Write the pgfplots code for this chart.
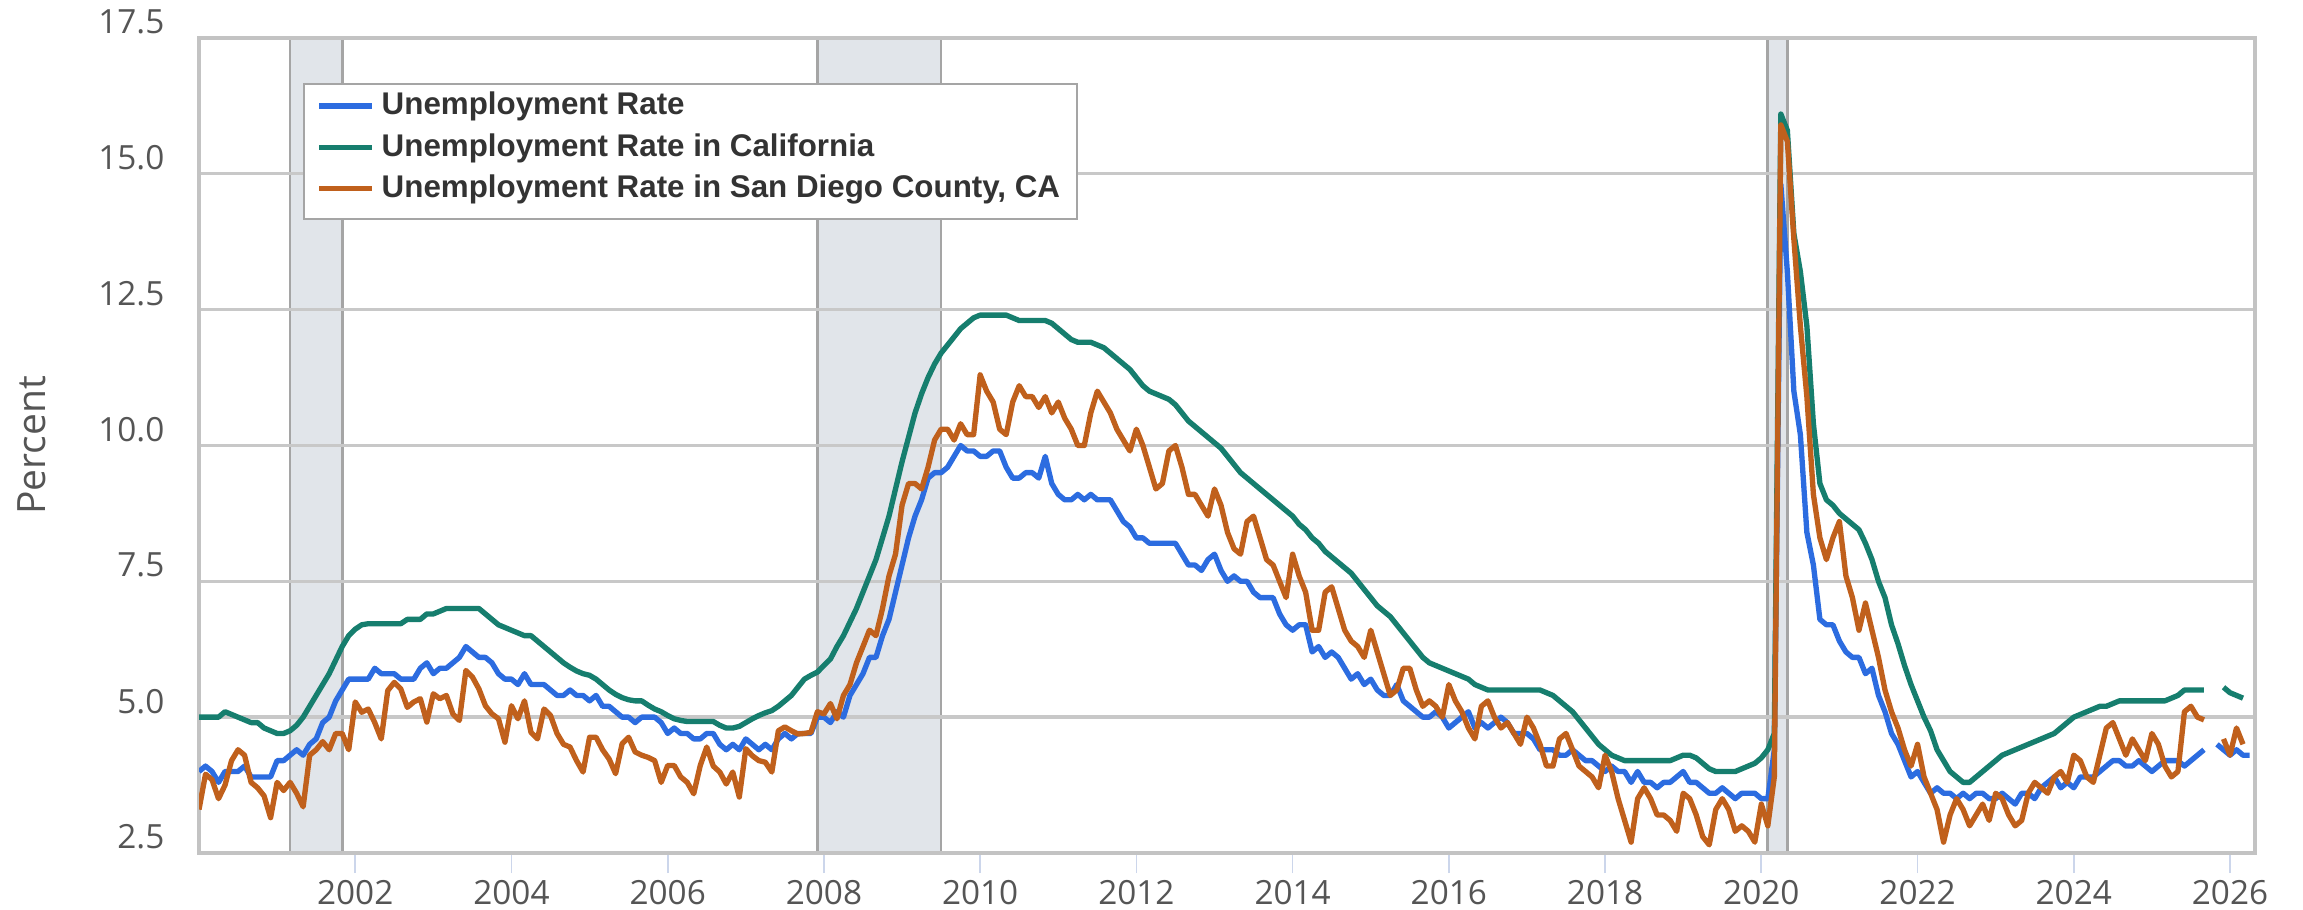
\documentclass[border=0pt]{standalone}
\usepackage{fontspec}
\setmainfont{Open Sans}
\newfontfamily\legfont{Liberation Sans}
\usepackage{pgfplots}
\usepackage{pgfplotstable}
\pgfplotsset{compat=1.18}

\definecolor{usblue}{RGB}{44,108,224}
\definecolor{cagreen}{RGB}{22,126,110}
\definecolor{sdorange}{RGB}{192,96,28}
\definecolor{recfill}{RGB}{225,229,234}
\definecolor{recedge}{RGB}{165,165,165}
\definecolor{gridgray}{RGB}{200,200,200}
\definecolor{bordergray}{RGB}{195,195,195}
\definecolor{ticktxt}{RGB}{85,85,85}
\definecolor{tickblue}{RGB}{204,214,235}
\definecolor{legtext}{RGB}{51,51,51}

% monthly values, Jan 2000 onwards, one year per line
\pgfplotstableread[row sep=\\,header=false]{
4.0\\4.1\\4.0\\3.8\\4.0\\4.0\\4.0\\4.1\\3.9\\3.9\\3.9\\3.9\\
4.2\\4.2\\4.3\\4.4\\4.3\\4.5\\4.6\\4.9\\5.0\\5.3\\5.5\\5.7\\
5.7\\5.7\\5.7\\5.9\\5.8\\5.8\\5.8\\5.7\\5.7\\5.7\\5.9\\6.0\\
5.8\\5.9\\5.9\\6.0\\6.1\\6.3\\6.2\\6.1\\6.1\\6.0\\5.8\\5.7\\
5.7\\5.6\\5.8\\5.6\\5.6\\5.6\\5.5\\5.4\\5.4\\5.5\\5.4\\5.4\\
5.3\\5.4\\5.2\\5.2\\5.1\\5.0\\5.0\\4.9\\5.0\\5.0\\5.0\\4.9\\
4.7\\4.8\\4.7\\4.7\\4.6\\4.6\\4.7\\4.7\\4.5\\4.4\\4.5\\4.4\\
4.6\\4.5\\4.4\\4.5\\4.4\\4.6\\4.7\\4.6\\4.7\\4.7\\4.7\\5.0\\
5.0\\4.9\\5.1\\5.0\\5.4\\5.6\\5.8\\6.1\\6.1\\6.5\\6.8\\7.3\\
7.8\\8.3\\8.7\\9.0\\9.4\\9.5\\9.5\\9.6\\9.8\\10.0\\9.9\\9.9\\
9.8\\9.8\\9.9\\9.9\\9.6\\9.4\\9.4\\9.5\\9.5\\9.4\\9.8\\9.3\\
9.1\\9.0\\9.0\\9.1\\9.0\\9.1\\9.0\\9.0\\9.0\\8.8\\8.6\\8.5\\
8.3\\8.3\\8.2\\8.2\\8.2\\8.2\\8.2\\8.0\\7.8\\7.8\\7.7\\7.9\\
8.0\\7.7\\7.5\\7.6\\7.5\\7.5\\7.3\\7.2\\7.2\\7.2\\6.9\\6.7\\
6.6\\6.7\\6.7\\6.2\\6.3\\6.1\\6.2\\6.1\\5.9\\5.7\\5.8\\5.6\\
5.7\\5.5\\5.4\\5.4\\5.6\\5.3\\5.2\\5.1\\5.0\\5.0\\5.1\\5.0\\
4.8\\4.9\\5.0\\5.1\\4.8\\4.9\\4.8\\4.9\\5.0\\4.9\\4.7\\4.7\\
4.7\\4.6\\4.4\\4.4\\4.4\\4.3\\4.3\\4.4\\4.3\\4.2\\4.2\\4.1\\
4.0\\4.1\\4.0\\4.0\\3.8\\4.0\\3.8\\3.8\\3.7\\3.8\\3.8\\3.9\\
4.0\\3.8\\3.8\\3.7\\3.6\\3.6\\3.7\\3.6\\3.5\\3.6\\3.6\\3.6\\
3.5\\3.5\\4.4\\14.8\\13.2\\11.0\\10.2\\8.4\\7.8\\6.8\\6.7\\6.7\\
6.4\\6.2\\6.1\\6.1\\5.8\\5.9\\5.4\\5.1\\4.7\\4.5\\4.2\\3.9\\
4.0\\3.8\\3.6\\3.7\\3.6\\3.6\\3.5\\3.6\\3.5\\3.6\\3.6\\3.5\\
3.5\\3.6\\3.5\\3.4\\3.6\\3.6\\3.5\\3.7\\3.8\\3.9\\3.7\\3.8\\
3.7\\3.9\\3.9\\3.9\\4.0\\4.1\\4.2\\4.2\\4.1\\4.1\\4.2\\4.1\\
4.0\\4.1\\4.2\\4.2\\4.2\\4.1\\4.2\\4.3\\4.4\\nan\\4.5\\4.4\\
4.3\\4.4\\4.3\\4.3\\
}\usdata

\pgfplotstableread[row sep=\\,header=false]{
5.0\\5.0\\5.0\\5.0\\5.1\\5.05\\5.0\\4.95\\4.9\\4.9\\4.8\\4.75\\
4.7\\4.7\\4.75\\4.85\\5.0\\5.2\\5.4\\5.6\\5.8\\6.05\\6.3\\6.5\\
6.62\\6.7\\6.72\\6.72\\6.72\\6.72\\6.72\\6.72\\6.8\\6.8\\6.8\\6.9\\
6.9\\6.95\\7.0\\7.0\\7.0\\7.0\\7.0\\7.0\\6.9\\6.8\\6.7\\6.65\\
6.6\\6.55\\6.5\\6.5\\6.4\\6.3\\6.2\\6.1\\6.0\\5.92\\5.85\\5.8\\
5.77\\5.7\\5.6\\5.5\\5.42\\5.36\\5.32\\5.3\\5.3\\5.22\\5.15\\5.1\\
5.03\\4.97\\4.94\\4.92\\4.92\\4.92\\4.92\\4.92\\4.85\\4.8\\4.8\\4.83\\
4.9\\4.97\\5.03\\5.08\\5.12\\5.2\\5.3\\5.4\\5.55\\5.7\\5.77\\5.83\\
5.95\\6.07\\6.3\\6.5\\6.75\\7.0\\7.3\\7.6\\7.9\\8.3\\8.7\\9.2\\
9.7\\10.15\\10.6\\10.95\\11.25\\11.5\\11.7\\11.85\\12.0\\12.15\\12.25\\12.35\\
12.4\\12.4\\12.4\\12.4\\12.4\\12.35\\12.3\\12.3\\12.3\\12.3\\12.3\\12.25\\
12.15\\12.05\\11.95\\11.9\\11.9\\11.9\\11.85\\11.8\\11.7\\11.6\\11.5\\11.4\\
11.25\\11.1\\11.0\\10.95\\10.9\\10.85\\10.75\\10.6\\10.45\\10.35\\10.25\\10.15\\
10.05\\9.95\\9.8\\9.65\\9.5\\9.4\\9.3\\9.2\\9.1\\9.0\\8.9\\8.8\\
8.7\\8.55\\8.45\\8.3\\8.2\\8.05\\7.95\\7.85\\7.75\\7.65\\7.5\\7.35\\
7.2\\7.05\\6.95\\6.85\\6.7\\6.55\\6.4\\6.25\\6.1\\6.0\\5.95\\5.9\\
5.85\\5.8\\5.75\\5.7\\5.6\\5.55\\5.5\\5.5\\5.5\\5.5\\5.5\\5.5\\
5.5\\5.5\\5.5\\5.45\\5.4\\5.3\\5.2\\5.1\\4.95\\4.8\\4.65\\4.5\\
4.4\\4.3\\4.25\\4.2\\4.2\\4.2\\4.2\\4.2\\4.2\\4.2\\4.2\\4.25\\
4.3\\4.3\\4.25\\4.15\\4.05\\4.0\\4.0\\4.0\\4.0\\4.05\\4.1\\4.15\\
4.25\\4.4\\4.7\\16.1\\15.8\\13.9\\13.2\\12.2\\10.4\\9.3\\9.0\\8.9\\
8.75\\8.65\\8.55\\8.45\\8.2\\7.9\\7.5\\7.2\\6.7\\6.35\\5.95\\5.6\\
5.3\\5.0\\4.75\\4.4\\4.2\\4.0\\3.9\\3.8\\3.8\\3.9\\4.0\\4.1\\
4.2\\4.3\\4.35\\4.4\\4.45\\4.5\\4.55\\4.6\\4.65\\4.7\\4.8\\4.9\\
5.0\\5.05\\5.1\\5.15\\5.2\\5.2\\5.25\\5.3\\5.3\\5.3\\5.3\\5.3\\
5.3\\5.3\\5.3\\5.35\\5.4\\5.5\\5.5\\5.5\\5.5\\nan\\nan\\5.55\\
5.45\\5.4\\5.35\\
}\cadata

\pgfplotstableread[row sep=\\,header=false]{
3.3\\3.95\\3.85\\3.5\\3.75\\4.2\\4.4\\4.3\\3.8\\3.7\\3.55\\3.15\\
3.8\\3.65\\3.8\\3.6\\3.35\\4.3\\4.4\\4.55\\4.4\\4.7\\4.7\\4.4\\
5.28\\5.09\\5.15\\4.9\\4.6\\5.49\\5.64\\5.52\\5.18\\5.28\\5.34\\4.91\\
5.43\\5.34\\5.4\\5.06\\4.94\\5.86\\5.74\\5.52\\5.21\\5.06\\4.97\\4.54\\
5.21\\4.97\\5.3\\4.72\\4.6\\5.15\\5.03\\4.7\\4.5\\4.45\\4.2\\3.99\\
4.63\\4.63\\4.4\\4.23\\3.96\\4.51\\4.63\\4.36\\4.3\\4.26\\4.2\\3.8\\
4.11\\4.11\\3.9\\3.8\\3.59\\4.11\\4.45\\4.1\\3.99\\3.77\\3.99\\3.53\\
4.42\\4.29\\4.2\\4.17\\3.99\\4.75\\4.82\\4.75\\4.69\\4.7\\4.72\\5.1\\
5.06\\5.25\\4.97\\5.4\\5.6\\6.0\\6.3\\6.6\\6.5\\7.0\\7.6\\8.0\\
8.9\\9.3\\9.3\\9.2\\9.6\\10.1\\10.3\\10.3\\10.1\\10.4\\10.2\\10.2\\
11.3\\11.0\\10.8\\10.3\\10.2\\10.8\\11.1\\10.9\\10.9\\10.7\\10.9\\10.6\\
10.8\\10.5\\10.3\\10.0\\10.0\\10.6\\11.0\\10.8\\10.6\\10.3\\10.1\\9.9\\
10.3\\10.0\\9.6\\9.2\\9.3\\9.9\\10.0\\9.6\\9.1\\9.1\\8.9\\8.7\\
9.2\\8.9\\8.4\\8.1\\8.0\\8.6\\8.7\\8.3\\7.9\\7.8\\7.5\\7.2\\
8.0\\7.6\\7.3\\6.6\\6.6\\7.3\\7.4\\7.0\\6.6\\6.4\\6.3\\6.1\\
6.6\\6.2\\5.8\\5.4\\5.5\\5.9\\5.9\\5.5\\5.2\\5.3\\5.2\\5.0\\
5.6\\5.3\\5.1\\4.8\\4.6\\5.2\\5.3\\5.0\\4.8\\4.9\\4.7\\4.5\\
5.0\\4.8\\4.5\\4.1\\4.1\\4.6\\4.7\\4.4\\4.1\\4.0\\3.9\\3.7\\
4.3\\4.0\\3.5\\3.1\\2.7\\3.5\\3.7\\3.5\\3.2\\3.2\\3.1\\2.9\\
3.6\\3.5\\3.2\\2.8\\2.65\\3.3\\3.5\\3.3\\2.9\\3.0\\2.9\\2.7\\
3.4\\3.0\\3.9\\15.9\\15.6\\13.8\\12.2\\10.9\\9.1\\8.3\\7.9\\8.3\\
8.6\\7.6\\7.2\\6.6\\7.1\\6.6\\6.1\\5.5\\5.1\\4.8\\4.4\\4.1\\
4.5\\3.9\\3.6\\3.3\\2.7\\3.2\\3.5\\3.3\\3.0\\3.2\\3.4\\3.1\\
3.6\\3.5\\3.2\\3.0\\3.1\\3.6\\3.8\\3.7\\3.6\\3.9\\4.0\\3.8\\
4.3\\4.2\\3.9\\3.8\\4.3\\4.8\\4.9\\4.6\\4.3\\4.6\\4.4\\4.2\\
4.7\\4.5\\4.1\\3.9\\4.0\\5.1\\5.2\\5.0\\4.95\\nan\\nan\\4.6\\
4.3\\4.8\\4.5\\
}\sddata

\begin{document}
\begin{tikzpicture}
\begin{axis}[
  set layers,
  at={(59.7pt,17.1pt)}, anchor=south west,
  scale only axis, width=616.8pt, height=244.5pt,
  xmin=2000, xmax=2026.32, ymin=2.5, ymax=17.5,
  xtick={2002,2004,...,2026},
  ytick={2.5,5,7.5,10,12.5,15,17.5},
  /pgf/number format/assume math mode=true,
  x tick label style={/pgf/number format/1000 sep={}, text=ticktxt, font=\fontsize{10}{12}\selectfont, inner sep=0pt, yshift=-2pt},
  yticklabel={\pgfmathprintnumber[fixed,fixed zerofill,precision=1]{\tick}},
  yticklabel style={anchor=east, inner sep=0pt, xshift=-4.2pt, yshift=4.8pt, text=ticktxt, font=\fontsize{10}{12}\selectfont},
  tick align=outside, major tick length=6pt,
  xtick pos=bottom,
  xtick style={draw=tickblue, line width=0.5pt},
  ytick style={draw=none},
  ymajorgrids,
  major grid style={draw=gridgray, line width=1pt},
  axis line style={draw=bordergray, line width=1pt},
  ylabel={Percent},
  ylabel style={at={(axis description cs:-0.0812,0.5)}, anchor=center, font=\fontsize{11.7}{14}\selectfont, text=ticktxt},
  unbounded coords=jump,
  legend style={at={(0.0511,0.9436)}, anchor=north west, draw=none, fill=none,
    font=\legfont\bfseries\fontsize{9.4}{11}\selectfont, text=legtext,
    inner xsep=3.5pt, inner ysep=0.3pt, row sep=0pt, cells={anchor=west}},
  legend image code/.code={\draw[#1, line width=1.6pt] (0pt,0pt) -- (16pt,0pt);},
  every axis plot/.append style={line width=1.6pt, line join=round},
]
% recessions
\addplot[forget plot, on layer=axis background, fill=recfill, draw=none, line width=0pt] coordinates {(2001.1667,2.5) (2001.1667,17.5) (2001.8333,17.5) (2001.8333,2.5)} -- cycle;
\addplot[forget plot, on layer=axis background, fill=recfill, draw=none, line width=0pt] coordinates {(2007.9167,2.5) (2007.9167,17.5) (2009.5,17.5) (2009.5,2.5)} -- cycle;
\addplot[forget plot, on layer=axis background, fill=recfill, draw=none, line width=0pt] coordinates {(2020.0833,2.5) (2020.0833,17.5) (2020.3333,17.5) (2020.3333,2.5)} -- cycle;
\addplot[forget plot, on layer=axis background, recedge, line width=0.8pt] coordinates {(2001.1667,2.5) (2001.1667,17.5)};
\addplot[forget plot, on layer=axis background, recedge, line width=0.8pt] coordinates {(2001.8333,2.5) (2001.8333,17.5)};
\addplot[forget plot, on layer=axis background, recedge, line width=0.8pt] coordinates {(2007.9167,2.5) (2007.9167,17.5)};
\addplot[forget plot, on layer=axis background, recedge, line width=0.8pt] coordinates {(2009.5,2.5) (2009.5,17.5)};
\addplot[forget plot, on layer=axis background, recedge, line width=0.8pt] coordinates {(2020.0833,2.5) (2020.0833,17.5)};
\addplot[forget plot, on layer=axis background, recedge, line width=0.8pt] coordinates {(2020.3333,2.5) (2020.3333,17.5)};

\addplot[usblue] table[x expr=2000+\coordindex/12, y index=0] {\usdata};
\addlegendentry{Unemployment Rate}
\addplot[cagreen] table[x expr=2000+\coordindex/12, y index=0] {\cadata};
\addlegendentry{Unemployment Rate in California}
\addplot[sdorange] table[x expr=2000+\coordindex/12, y index=0] {\sddata};
\addlegendentry{Unemployment Rate in San Diego County, CA}

% legend frame
\draw[recedge, line width=0.6pt, fill=white] (axis description cs:0.0511,0.9436) rectangle (axis description cs:0.4270,0.7780);
\end{axis}
\path (0,0) rectangle (690.9pt,273pt);
\end{tikzpicture}
\end{document}
